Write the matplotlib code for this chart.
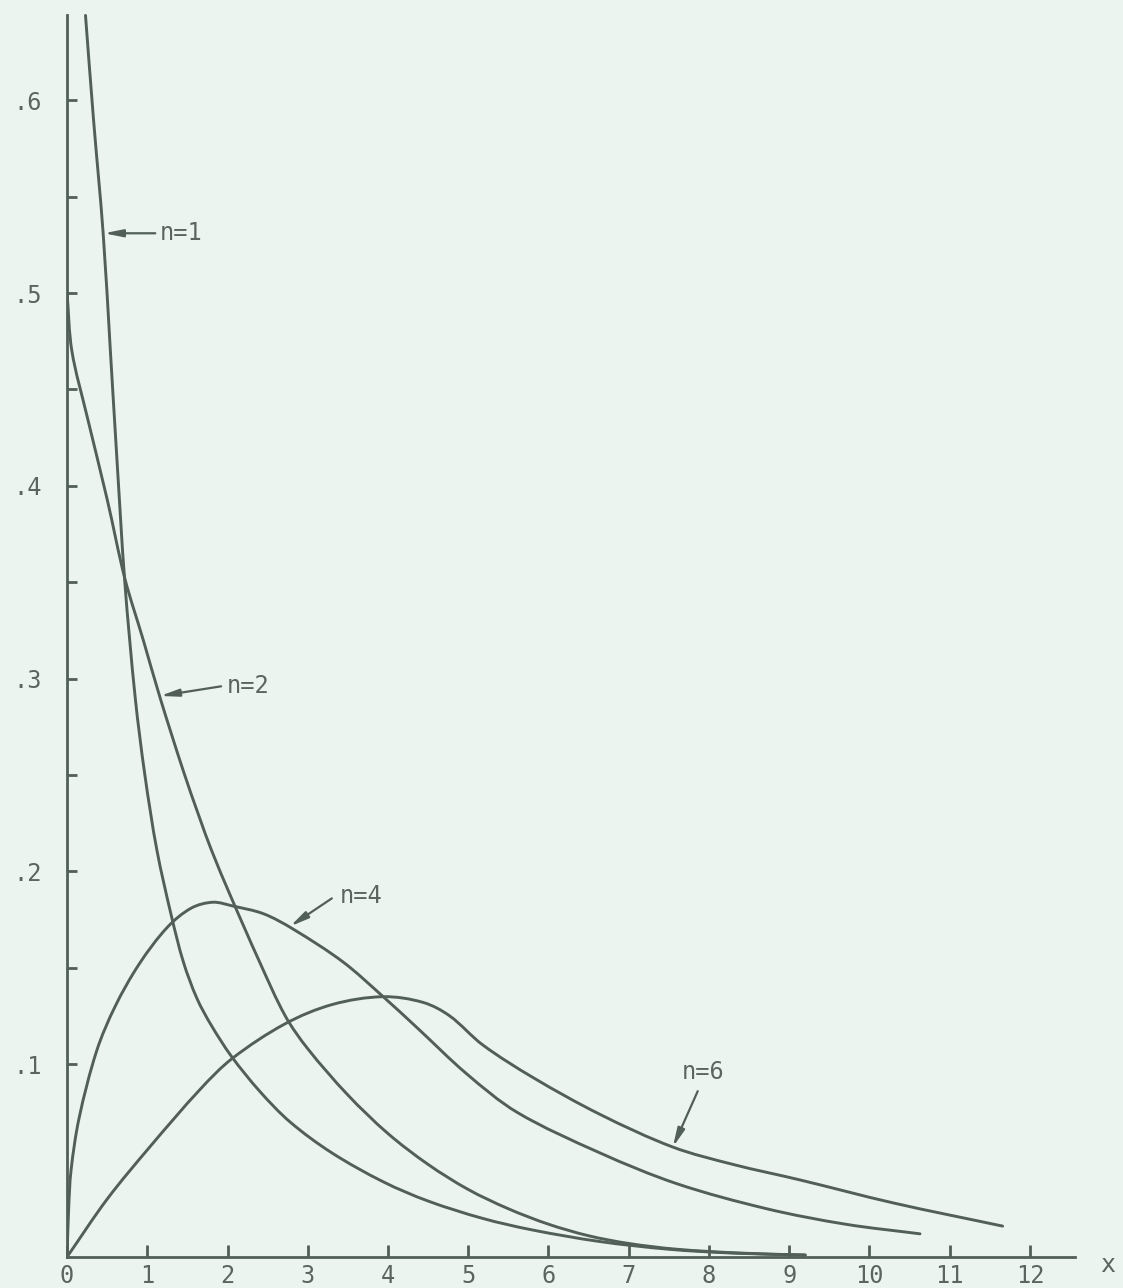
import matplotlib
matplotlib.use("Agg")
import numpy as np
import matplotlib.pyplot as plt
from matplotlib.path import Path
from matplotlib.patches import PathPatch

# 读图得到的曲线数据 (chi-square 密度, n = 自由度)
n1_x = [0.23, 0.33, 0.45, 0.54, 0.62, 0.72, 0.85, 0.97, 1.12, 1.30, 1.45, 1.62, 1.80,
        2.05, 2.40, 2.78, 3.30, 3.94, 4.50, 5.18, 5.80, 6.64, 7.50, 8.30, 9.20]
n1_y = [0.644, 0.590, 0.531, 0.470, 0.415, 0.350, 0.290, 0.250, 0.211, 0.177, 0.153, 0.134, 0.120,
        0.104, 0.086, 0.070, 0.054, 0.039, 0.029, 0.020, 0.014, 0.008, 0.004, 0.002, 0.001]

n2_x = [0.0, 0.06, 0.25, 0.50, 0.72, 0.95, 1.16, 1.45, 1.65, 1.80, 2.03, 2.40, 2.72,
        3.00, 3.50, 4.00, 4.50, 5.00, 5.50, 6.00, 6.50, 7.00, 7.60, 8.40, 9.20]
n2_y = [0.500, 0.470, 0.436, 0.393, 0.352, 0.320, 0.290, 0.252, 0.228, 0.211, 0.188, 0.153, 0.125,
        0.108, 0.084, 0.064, 0.048, 0.035, 0.025, 0.017, 0.011, 0.007, 0.004, 0.002, 0.001]

n4_x = [0.0, 0.02, 0.05, 0.15, 0.37, 0.60, 0.90, 1.25, 1.55, 1.82, 2.07, 2.45, 2.82,
        3.44, 3.94, 4.36, 4.98, 5.61, 6.64, 7.60, 8.72, 9.70, 10.63]
n4_y = [0.0, 0.025, 0.045, 0.072, 0.107, 0.130, 0.152, 0.171, 0.181, 0.184, 0.182, 0.178, 0.170,
        0.153, 0.135, 0.119, 0.095, 0.075, 0.054, 0.038, 0.025, 0.017, 0.012]

n6_x = [0.0, 0.50, 1.03, 1.66, 2.06, 2.72, 3.31, 3.94, 4.44, 4.77, 5.18, 5.81, 6.64,
        7.55, 8.30, 9.13, 10.30, 11.66]
n6_y = [0.0, 0.030, 0.057, 0.087, 0.103, 0.121, 0.131, 0.135, 0.132, 0.125, 0.110, 0.093, 0.074,
        0.057, 0.048, 0.040, 0.028, 0.016]

x_ticks = list(range(0, 13))
y_major = [0.1, 0.2, 0.3, 0.4, 0.5, 0.6]
y_major_labels = [".1", ".2", ".3", ".4", ".5", ".6"]
y_minor = [0.15, 0.25, 0.35, 0.45, 0.55]

bg = "#ecf4f0"
ink = "#525f58"
txt = "#5a655f"
font = "DejaVu Sans Mono"


def smooth_curve(ax, xs, ys, **kw):
    # 手绘曲线: 用三次贝塞尔把读到的点平滑连起来 (弦长参数化, 避免过冲)
    pts = np.column_stack([xs, ys]).astype(float)
    disp = ax.transData.transform(pts)
    t = np.concatenate([[0.0], np.cumsum(np.hypot(*np.diff(disp, axis=0).T))])
    n = len(pts)
    tang = np.zeros_like(pts)
    for i in range(n):
        a, b = max(i - 1, 0), min(i + 1, n - 1)
        tang[i] = (pts[b] - pts[a]) / (t[b] - t[a])
    verts = [pts[0]]
    codes = [Path.MOVETO]
    for i in range(n - 1):
        h = (t[i + 1] - t[i]) / 3.0
        verts += [pts[i] + tang[i] * h, pts[i + 1] - tang[i + 1] * h, pts[i + 1]]
        codes += [Path.CURVE4] * 3
    ax.add_patch(PathPatch(Path(verts, codes), fill=False, **kw))


fig = plt.figure(figsize=(11.23, 12.88), dpi=100, facecolor=bg)
ax = fig.add_axes([0.0597, 0.0241, 0.9403, 0.9759])
ax.set_facecolor(bg)
ax.set_xlim(0, 13.16)
ax.set_ylim(0, 0.652)

for xs, ys in [(n1_x, n1_y), (n2_x, n2_y), (n4_x, n4_y), (n6_x, n6_y)]:
    smooth_curve(ax, xs, ys, edgecolor=ink, lw=2.1, joinstyle="round", capstyle="round")

# 坐标轴: 只保留左/下轴线
for s in ["top", "right"]:
    ax.spines[s].set_visible(False)
ax.spines["left"].set_bounds(0, 0.644)
ax.spines["bottom"].set_bounds(0, 12.56)
for s in ["left", "bottom"]:
    ax.spines[s].set_color(ink)
    ax.spines[s].set_linewidth(2.0)

ax.set_xticks(x_ticks)
ax.set_xticklabels([str(v) for v in x_ticks], family=font, fontsize=17, color=txt)
ax.tick_params(axis="x", direction="in", length=9, width=2, color=ink, pad=5)

ax.set_yticks(y_major)
ax.set_yticklabels(y_major_labels, family=font, fontsize=17, color=txt)
ax.set_yticks(y_minor, minor=True)
ax.tick_params(axis="y", which="both", direction="in", length=7, width=2, color=ink, pad=18)

ax.text(12.97, -0.004, "x", family=font, fontsize=18, color=txt, ha="center", va="center",
        clip_on=False)

# 曲线标注 (箭头 + 文字)
labels = [
    ("n=1", (0.46, 0.531), (1.10, 0.531), (1.16, 0.531), "left"),
    ("n=2", (1.16, 0.291), (1.92, 0.296), (1.99, 0.296), "left"),
    ("n=4", (2.78, 0.1715), (3.30, 0.186), (3.40, 0.187), "left"),
    ("n=6", (7.55, 0.057), (7.86, 0.086), (7.93, 0.096), "center"),
]
for text, tip, tail, pos, ha in labels:
    ax.annotate("", xy=tip, xytext=tail,
                arrowprops=dict(arrowstyle="-|>,head_length=1.1,head_width=0.22",
                                color=ink, lw=1.6, shrinkA=0, shrinkB=0))
    ax.text(pos[0], pos[1], text, family=font, fontsize=17, color=txt,
            ha=ha, va="center")

fig.savefig("out.png", dpi=100, facecolor=bg)
